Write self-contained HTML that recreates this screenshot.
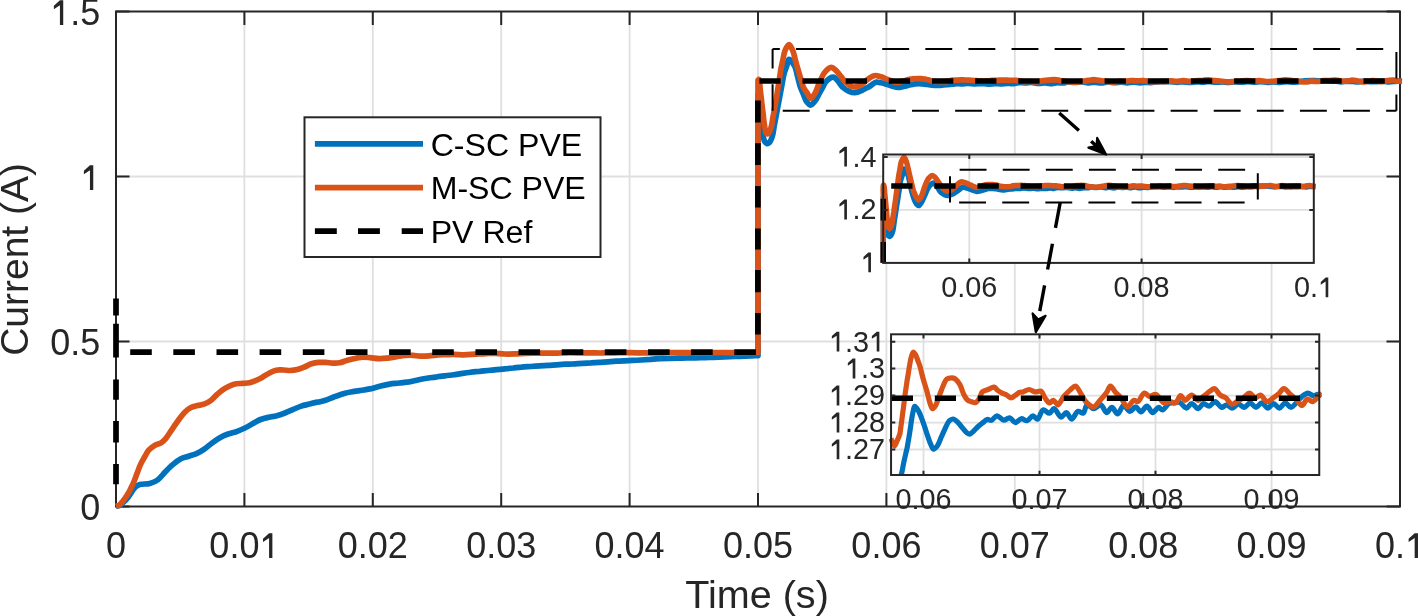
<!DOCTYPE html><html><head><meta charset="utf-8"><title>plot</title><style>html,body{margin:0;padding:0;background:#fff;overflow:hidden}svg{display:block;will-change:transform}</style></head><body>
<svg width="1418" height="616" viewBox="0 0 1418 616" font-family="'Liberation Sans', sans-serif">
<defs>
<clipPath id="cm"><rect x="112.5" y="8.0" width="1291" height="502.0"/></clipPath>
<clipPath id="c1"><rect x="880.2" y="151.5" width="436.7" height="113.7"/></clipPath>
<clipPath id="c2"><rect x="888.6" y="331.3" width="433.8" height="145.6"/></clipPath>
</defs>
<rect width="1418" height="616" fill="#fff"/>
<path d="M244.4 11.5V506.5M372.8 11.5V506.5M501.2 11.5V506.5M629.6 11.5V506.5M758.0 11.5V506.5M886.4 11.5V506.5M1014.8 11.5V506.5M1143.2 11.5V506.5M1271.6 11.5V506.5M116.0 341.5H1400.0M116.0 176.5H1400.0" stroke="#dfdfdf" stroke-width="1.8" fill="none"/>
<path d="M116.0 506.5V493.0M116.0 11.5V25.0M244.4 506.5V493.0M244.4 11.5V25.0M372.8 506.5V493.0M372.8 11.5V25.0M501.2 506.5V493.0M501.2 11.5V25.0M629.6 506.5V493.0M629.6 11.5V25.0M758.0 506.5V493.0M758.0 11.5V25.0M886.4 506.5V493.0M886.4 11.5V25.0M1014.8 506.5V493.0M1014.8 11.5V25.0M1143.2 506.5V493.0M1143.2 11.5V25.0M1271.6 506.5V493.0M1271.6 11.5V25.0M1400.0 506.5V493.0M1400.0 11.5V25.0M116.0 506.5H129.5M1400.0 506.5H1386.5M116.0 341.5H129.5M1400.0 341.5H1386.5M116.0 176.5H129.5M1400.0 176.5H1386.5M116.0 11.5H129.5M1400.0 11.5H1386.5" stroke="#262626" stroke-width="2" fill="none"/>
<rect x="116" y="11.5" width="1284" height="495.0" fill="none" stroke="#262626" stroke-width="2"/>
<g clip-path="url(#cm)" fill="none" stroke-linejoin="round" stroke-width="5.7">
<path d="M116.0 506.3C117.0 506.1 118.0 506.0 119.0 505.6C120.0 505.1 121.0 504.4 122.0 503.6C123.0 502.8 124.0 501.8 125.0 500.8C126.0 499.7 127.0 498.6 128.0 497.4C129.0 496.1 130.0 494.4 131.0 493.0C131.9 491.7 132.6 490.4 133.5 489.3C134.3 488.2 135.0 487.2 136.0 486.4C136.9 485.7 138.0 485.2 139.0 484.8C140.0 484.5 140.8 484.4 142.0 484.2C144.0 483.9 147.3 484.1 149.8 483.4C152.5 482.7 155.2 481.7 157.6 480.0C160.4 478.0 162.8 474.4 165.4 471.8C167.9 469.2 170.4 466.6 173.1 464.4C175.6 462.3 178.2 460.2 180.9 458.8C183.4 457.5 186.1 457.1 188.7 456.2C191.3 455.3 194.0 454.7 196.5 453.6C199.2 452.4 201.8 450.8 204.3 449.1C207.0 447.3 209.5 444.9 212.1 443.0C214.7 441.1 217.2 439.3 219.9 437.8C222.5 436.3 225.3 435.0 228.1 434.0C230.8 433.0 233.5 432.6 236.2 431.7C239.0 430.7 241.7 429.6 244.4 428.3C247.1 427.0 249.8 425.3 252.5 423.8C255.2 422.3 257.8 420.6 260.6 419.5C263.2 418.5 266.0 417.9 268.7 417.3C271.4 416.7 274.1 416.4 276.8 415.7C279.5 415.0 282.2 414.0 284.9 413.0C287.6 411.9 290.4 410.6 293.1 409.4C295.8 408.3 298.5 407.0 301.2 406.1C303.9 405.2 306.8 404.7 309.3 404.1C311.4 403.6 313.2 403.0 315.0 402.6C316.7 402.2 318.4 402.2 320.0 401.8C321.6 401.5 322.9 401.1 324.7 400.5C327.4 399.6 331.2 397.9 334.5 396.7C337.7 395.5 340.9 394.3 344.2 393.4C347.4 392.5 350.7 392.0 354.0 391.4C357.2 390.8 360.8 390.5 363.7 390.0C366.0 389.6 367.7 389.4 370.0 388.9C372.9 388.3 376.5 387.1 379.7 386.3C383.0 385.5 386.2 384.7 389.5 384.1C392.7 383.6 396.0 383.4 399.2 383.0C402.5 382.6 405.8 382.4 409.0 381.9C412.3 381.3 415.3 380.4 418.7 379.7C422.3 379.0 426.7 378.3 430.0 377.8C432.6 377.4 434.6 377.1 437.0 376.8C439.7 376.4 442.7 376.1 445.5 375.8C448.3 375.4 451.2 375.1 454.0 374.7C456.8 374.3 459.7 373.9 462.5 373.4C465.3 373.0 468.2 372.6 471.0 372.2C473.8 371.9 476.7 371.6 479.5 371.4C482.3 371.1 485.2 370.8 488.0 370.5C490.8 370.2 493.7 369.9 496.5 369.6C499.3 369.4 502.2 369.1 505.0 368.8C507.8 368.5 510.5 368.2 513.2 368.0C516.0 367.7 518.7 367.3 521.5 367.1C524.5 366.8 527.7 366.7 530.8 366.5C533.8 366.3 537.0 366.1 540.0 365.9C542.9 365.7 545.6 365.5 548.3 365.3C551.1 365.1 553.9 365.0 556.7 364.8C559.4 364.6 562.2 364.4 565.0 364.2C567.9 364.0 570.8 363.9 573.7 363.8C576.6 363.6 579.4 363.5 582.3 363.3C585.2 363.2 588.1 363.1 591.0 362.9C593.8 362.7 596.6 362.5 599.3 362.3C602.1 362.1 604.9 362.0 607.7 361.8C610.4 361.6 613.2 361.4 616.0 361.2C618.8 361.0 621.6 360.9 624.3 360.8C627.1 360.7 629.9 360.5 632.7 360.4C635.4 360.3 638.1 360.2 641.0 360.0C644.1 359.8 647.3 359.6 650.5 359.4C653.7 359.1 656.9 358.8 660.0 358.7C663.0 358.6 666.0 358.5 669.0 358.5C672.0 358.4 675.0 358.3 678.0 358.2C681.0 358.2 684.0 358.1 687.0 358.0C690.0 357.9 693.0 357.9 696.0 357.8C699.0 357.7 702.0 357.7 705.0 357.6C708.0 357.5 710.9 357.5 714.0 357.4C717.4 357.3 721.0 357.1 724.5 356.9C728.0 356.8 731.5 356.6 735.0 356.5C738.5 356.4 742.0 356.2 745.5 356.1C749.0 356.0 753.9 355.8 756.0 355.7C756.9 355.7 757.3 355.6 758.0 355.6C758.0 351.7 758.0 347.7 758.0 343.8C758.0 339.8 758.0 335.9 758.0 331.9C758.0 328.0 758.0 324.0 758.0 320.1C758.0 316.1 758.0 312.2 758.0 308.2C758.0 304.3 758.0 300.3 758.0 296.4C758.0 292.4 758.0 288.5 758.0 284.5C758.0 280.6 758.0 276.6 758.0 272.7C758.0 268.7 758.0 264.8 758.0 260.8C758.0 256.9 758.0 252.9 758.0 249.0C758.0 245.0 758.0 241.1 758.0 237.1C758.0 233.2 758.0 229.2 758.0 225.3C758.0 221.4 758.0 217.4 758.0 213.5C758.0 209.5 758.0 205.6 758.0 201.6C758.0 197.7 758.0 193.7 758.0 189.8C758.0 185.8 758.0 181.9 758.0 177.9C758.0 174.0 758.0 170.0 758.0 166.1C758.0 162.1 758.0 158.2 758.0 154.2C758.0 150.3 758.0 146.3 758.0 142.4C758.0 138.4 758.0 134.5 758.0 130.5C758.0 126.6 758.0 122.6 758.0 118.7C758.0 114.7 758.0 110.8 758.0 106.8C758.0 102.9 758.0 98.9 758.0 95.0C758.3 98.5 758.6 102.0 758.9 105.5C759.2 109.0 759.4 112.6 759.7 116.1C760.0 119.6 760.0 123.4 760.6 126.6C761.1 129.3 761.9 131.4 762.5 133.8C763.2 136.2 763.5 139.3 764.5 141.0C765.2 142.2 766.1 143.4 767.0 143.6C767.7 143.7 768.6 143.3 769.3 142.6C770.5 141.5 771.5 138.8 772.3 136.4C773.3 133.4 773.6 129.5 774.2 126.0C774.9 122.5 775.5 119.1 776.2 115.6C776.8 112.1 777.5 108.7 778.1 105.2C778.8 101.7 779.4 98.3 780.1 94.8C780.7 91.3 781.4 87.9 782.0 84.4C782.7 80.9 783.2 77.1 784.0 74.0C784.7 71.3 785.7 69.1 786.5 66.7C787.4 64.3 787.8 59.6 789.1 59.4C790.5 59.2 793.3 63.5 794.7 66.2C796.3 69.2 796.7 73.3 797.7 76.9C798.6 80.5 799.5 84.5 800.6 87.6C801.5 90.2 802.5 92.2 803.5 94.5C804.5 96.7 805.1 99.5 806.4 101.3C807.6 102.9 809.3 105.1 810.7 105.1C812.1 105.1 813.7 102.7 815.0 101.0C816.7 98.9 818.1 95.4 819.5 93.0C820.7 90.9 821.7 89.2 822.8 87.3C823.8 85.3 824.4 83.1 826.0 81.5C827.8 79.7 831.0 77.0 833.1 77.1C834.9 77.2 836.5 79.4 838.0 81.0C839.7 82.8 840.9 85.6 842.8 87.3C844.6 89.0 846.9 90.4 849.0 91.3C850.9 92.1 852.9 92.8 855.0 92.7C857.3 92.6 860.4 91.1 862.3 90.3C863.5 89.7 864.1 89.2 865.1 88.7C866.2 88.1 867.5 87.7 868.5 87.1C869.4 86.6 870.1 86.0 870.9 85.5C871.6 85.0 872.3 84.4 873.0 83.9C873.6 83.5 874.2 83.1 874.8 82.8C875.4 82.5 875.9 82.2 876.5 82.1C877.2 82.0 877.9 82.2 878.7 82.3C879.5 82.4 880.3 82.6 881.3 82.8C882.6 83.1 884.2 83.5 885.6 84.0C887.1 84.4 888.5 84.9 889.9 85.4C891.4 85.9 892.9 86.4 894.3 86.7C895.4 87.0 896.3 87.3 897.5 87.4C898.8 87.4 900.4 87.2 901.8 86.9C903.2 86.7 904.7 86.2 906.1 85.9C907.5 85.5 909.0 85.1 910.4 84.8C911.9 84.5 913.3 84.1 914.7 83.9C916.2 83.7 917.5 83.7 919.1 83.7C920.8 83.7 922.7 83.9 924.5 84.1C926.3 84.3 928.2 84.6 929.9 84.8C931.4 85.0 932.9 85.2 934.2 85.3C935.4 85.4 936.3 85.5 937.4 85.5C938.8 85.5 940.2 85.3 941.7 85.2C943.5 85.0 945.4 84.7 947.2 84.6C948.9 84.4 950.8 84.2 952.5 84.1C954.0 84.0 955.3 83.8 956.8 83.7C958.4 83.7 960.0 83.9 961.7 83.8C963.6 83.8 965.5 83.3 967.6 83.3C970.0 83.2 972.8 83.8 975.2 83.8C977.4 83.8 979.5 83.5 981.7 83.5C983.9 83.6 986.0 84.1 988.1 84.1C990.3 84.1 992.5 83.7 994.7 83.6C996.8 83.6 998.9 83.9 1001.1 83.9C1003.2 83.8 1005.6 83.3 1007.6 83.3C1009.4 83.3 1010.8 83.8 1012.6 83.7C1014.5 83.6 1016.6 82.7 1018.7 82.6C1021.0 82.4 1023.7 83.0 1025.9 83.0C1027.7 82.9 1029.0 82.4 1030.8 82.4C1033.2 82.4 1036.4 83.4 1038.8 83.4C1040.9 83.5 1042.7 82.8 1044.6 82.9C1046.5 82.9 1048.3 83.7 1050.3 83.7C1052.6 83.7 1055.3 82.8 1057.5 82.7C1059.5 82.6 1061.4 83.1 1063.2 83.0C1064.7 82.8 1065.9 82.1 1067.5 81.9C1069.6 81.8 1072.2 82.4 1074.7 82.4C1077.3 82.4 1080.1 81.8 1082.7 81.9C1084.9 82.0 1087.0 82.8 1089.1 82.9C1091.0 82.9 1092.9 82.2 1094.8 82.2C1096.9 82.3 1099.2 83.1 1101.4 83.0C1103.5 83.0 1105.6 82.1 1107.8 82.0C1110.1 81.9 1112.6 82.7 1115.0 82.7C1117.2 82.7 1119.3 82.1 1121.4 82.2C1123.4 82.2 1125.2 82.8 1127.2 82.8C1129.3 82.8 1131.5 82.1 1133.7 82.1C1135.8 82.1 1137.9 82.9 1140.1 82.9C1142.3 82.9 1144.7 82.3 1146.6 82.2C1148.2 82.2 1149.3 82.6 1150.9 82.6C1153.0 82.5 1155.9 81.9 1158.1 81.8C1160.2 81.6 1162.0 81.7 1163.9 81.7C1165.8 81.7 1167.6 81.5 1169.7 81.6C1172.1 81.7 1175.1 82.3 1177.5 82.3C1179.6 82.3 1181.2 81.8 1183.3 81.8C1185.5 81.8 1188.2 82.4 1190.5 82.4C1192.5 82.4 1194.2 81.8 1196.2 81.8C1198.3 81.7 1200.5 82.1 1202.6 82.1C1204.8 82.0 1206.9 81.5 1209.2 81.5C1211.5 81.6 1214.1 82.2 1216.4 82.2C1218.4 82.3 1220.2 81.9 1222.1 81.9C1224.0 81.9 1225.8 82.3 1227.8 82.3C1230.0 82.3 1232.6 81.9 1235.0 81.9C1237.2 81.8 1239.3 82.3 1241.5 82.2C1243.6 82.2 1245.8 81.7 1247.9 81.7C1250.1 81.7 1252.3 82.2 1254.4 82.2C1256.6 82.2 1258.7 81.7 1260.9 81.7C1263.0 81.7 1265.2 82.3 1267.4 82.3C1269.5 82.3 1271.7 81.8 1273.8 81.8C1276.0 81.8 1278.2 82.3 1280.3 82.3C1282.5 82.3 1284.6 81.7 1286.8 81.7C1288.9 81.7 1291.2 82.3 1293.2 82.2C1295.0 82.2 1296.4 82.0 1298.3 81.8C1300.5 81.5 1303.1 81.1 1305.5 80.9C1307.7 80.7 1309.8 80.5 1311.9 80.5C1313.9 80.5 1315.8 80.8 1317.6 80.8C1319.4 80.8 1320.9 80.7 1322.7 80.7C1324.9 80.6 1327.5 80.8 1329.7 80.8C1331.7 80.9 1333.6 81.0 1335.5 81.2C1337.4 81.3 1339.3 81.8 1341.3 81.9C1343.2 81.9 1345.1 81.3 1347.0 81.2C1349.0 81.2 1350.9 81.3 1352.8 81.4C1354.8 81.5 1356.7 81.9 1358.6 81.8C1360.5 81.8 1362.5 81.1 1364.4 81.1C1366.3 81.1 1368.2 81.5 1370.2 81.6C1372.1 81.7 1374.0 81.7 1375.9 81.6C1377.9 81.5 1379.8 81.1 1381.7 81.1C1383.6 81.1 1385.6 81.7 1387.5 81.8C1389.4 81.8 1391.3 81.5 1393.3 81.4C1395.2 81.3 1397.4 81.1 1399.0 81.2C1400.2 81.3 1401.0 81.4 1402.0 81.5" stroke="#0072BD" stroke-linecap="butt"/>
<path d="M116.0 506.3C116.8 506.0 117.7 505.9 118.5 505.5C119.4 505.0 120.2 504.3 121.0 503.5C121.8 502.7 122.4 501.7 123.2 500.7C124.1 499.5 125.1 498.2 126.0 496.8C127.0 495.3 128.2 493.6 129.1 491.9C130.1 490.2 130.9 488.3 131.7 486.5C132.6 484.7 133.4 483.0 134.2 481.0C135.1 478.7 136.1 475.9 137.0 473.5C137.9 471.2 138.6 468.9 139.5 466.8C140.3 464.9 141.1 463.3 142.0 461.5C143.0 459.6 144.2 457.8 145.2 455.9C146.3 454.1 147.0 452.1 148.5 450.4C150.2 448.5 152.7 446.5 155.0 445.2C157.1 444.0 159.7 443.8 161.5 442.6C163.1 441.6 164.1 440.4 165.5 438.8C167.4 436.6 169.5 433.1 171.5 430.2C173.6 427.1 175.8 423.8 178.0 420.8C180.1 417.9 182.2 414.7 184.5 412.4C186.5 410.4 188.7 408.7 191.0 407.5C193.1 406.4 195.3 406.1 197.5 405.5C199.7 405.0 201.9 405.0 204.0 404.2C206.2 403.4 208.4 402.2 210.5 400.7C212.8 399.0 214.8 396.4 217.0 394.5C219.1 392.6 221.2 390.8 223.4 389.3C225.5 387.9 227.7 386.7 229.9 385.8C232.0 384.9 234.2 384.2 236.4 383.8C238.5 383.4 240.7 383.6 242.9 383.4C245.1 383.2 247.3 383.3 249.4 382.8C251.4 382.4 253.0 381.6 255.0 380.8C257.2 379.9 259.8 378.7 262.1 377.4C264.5 376.1 266.7 374.4 269.1 373.2C271.4 372.0 273.8 370.7 276.2 370.2C278.5 369.7 280.9 370.0 283.2 370.0C285.6 370.0 287.9 370.6 290.3 370.5C292.6 370.4 295.0 370.1 297.3 369.5C299.7 368.9 302.1 367.9 304.4 367.0C306.8 366.0 309.0 364.6 311.4 363.8C313.7 363.1 316.1 362.6 318.5 362.4C320.8 362.2 323.2 362.3 325.5 362.4C327.9 362.5 330.2 363.0 332.6 363.1C334.9 363.2 337.3 363.2 339.6 362.8C342.0 362.4 344.2 361.2 346.7 360.5C349.3 359.7 352.5 359.0 355.0 358.4C357.1 357.9 358.6 357.5 360.7 357.3C363.4 357.1 366.8 357.4 369.8 357.6C372.8 357.8 376.0 358.5 378.9 358.6C381.6 358.7 384.1 358.5 386.8 358.2C389.7 357.9 392.9 357.3 395.9 356.8C398.9 356.4 402.1 355.7 405.0 355.5C407.7 355.3 410.4 355.2 413.0 355.3C415.4 355.4 417.5 356.0 420.0 356.1C422.8 356.2 425.9 356.1 428.9 355.9C431.9 355.7 435.2 355.2 438.0 355.0C440.5 354.8 442.5 354.8 445.0 354.7C447.8 354.6 450.9 354.4 454.0 354.4C457.2 354.4 460.6 354.8 464.0 354.8C467.6 354.8 471.3 354.4 475.0 354.2C478.7 354.0 482.5 353.7 486.0 353.6C489.1 353.5 491.9 353.3 495.0 353.4C498.2 353.5 501.7 353.9 505.0 354.0C508.3 354.1 511.7 354.0 515.0 353.9C518.3 353.8 521.9 353.4 525.0 353.3C527.7 353.2 530.0 353.2 532.5 353.2C535.0 353.2 537.5 353.1 540.0 353.1C542.5 353.1 545.0 353.1 547.5 353.1C550.0 353.2 552.5 353.2 555.0 353.2C557.5 353.2 560.0 353.0 562.5 352.9C565.0 352.9 567.5 352.7 570.0 352.7C572.5 352.7 575.0 352.7 577.5 352.8C580.0 352.8 582.5 352.8 585.0 352.8C587.5 352.8 590.0 352.9 592.5 352.9C595.0 352.9 597.5 353.0 600.0 353.0C602.5 353.0 605.0 352.9 607.5 352.9C610.0 352.9 612.5 352.8 615.0 352.8C617.5 352.8 620.0 352.7 622.5 352.7C625.0 352.7 627.5 352.6 630.0 352.6C632.5 352.6 635.0 352.7 637.5 352.8C640.0 352.8 642.5 352.9 645.0 352.9C647.5 352.9 650.0 352.9 652.5 352.9C655.0 352.8 657.5 352.8 660.0 352.8C662.5 352.8 665.0 352.7 667.5 352.6C670.0 352.6 672.5 352.5 675.0 352.5C677.5 352.5 680.0 352.6 682.5 352.6C685.0 352.6 687.5 352.7 690.0 352.7C692.5 352.7 695.0 352.7 697.5 352.8C700.0 352.8 702.5 352.8 705.0 352.8C707.5 352.8 710.0 352.7 712.5 352.6C715.0 352.6 717.5 352.5 720.0 352.5C722.5 352.5 725.0 352.5 727.5 352.6C730.0 352.6 732.5 352.6 735.0 352.6C737.5 352.6 740.0 352.6 742.5 352.6C745.0 352.5 747.5 352.5 750.0 352.5C752.6 352.5 755.3 352.5 758.0 352.5C758.0 348.6 758.0 344.6 758.0 340.7C758.0 336.7 758.0 332.8 758.0 328.8C758.0 324.9 758.0 320.9 758.0 317.0C758.0 313.0 758.0 309.1 758.0 305.1C758.0 301.2 758.0 297.2 758.0 293.3C758.0 289.3 758.0 285.4 758.0 281.4C758.0 277.5 758.0 273.5 758.0 269.6C758.0 265.6 758.0 261.7 758.0 257.7C758.0 253.8 758.0 249.8 758.0 245.9C758.0 241.9 758.0 238.0 758.0 234.0C758.0 230.1 758.0 226.1 758.0 222.2C758.0 218.2 758.0 214.3 758.0 210.3C758.0 206.4 758.0 202.4 758.0 198.5C758.0 194.5 758.0 190.6 758.0 186.6C758.0 182.7 758.0 178.7 758.0 174.8C758.0 170.8 758.0 166.9 758.0 162.9C758.0 159.0 758.0 155.0 758.0 151.1C758.0 147.1 758.0 143.2 758.0 139.2C758.0 135.3 758.0 131.3 758.0 127.4C758.0 123.4 758.0 119.5 758.0 115.5C758.0 111.6 758.0 107.6 758.0 103.7C758.0 99.7 758.0 95.8 758.0 91.8C758.0 87.9 758.0 83.9 758.0 80.0C758.3 79.8 758.7 79.3 759.0 79.5C759.8 80.0 759.8 86.1 760.2 89.4C760.6 92.7 761.0 96.2 761.4 99.3C761.7 102.1 762.0 104.7 762.3 107.4C762.6 110.1 763.0 112.7 763.3 115.4C763.6 118.1 763.7 120.7 764.2 123.5C764.8 126.7 765.3 132.8 766.6 133.6C767.2 134.0 768.0 133.7 768.6 133.2C769.7 132.3 770.6 129.0 771.3 126.6C772.1 123.8 772.4 120.5 772.9 117.5C773.5 114.5 774.0 111.4 774.6 108.4C775.1 105.4 775.7 102.4 776.2 99.3C776.8 96.0 777.3 92.4 777.8 88.9C778.4 85.4 778.9 82.0 779.5 78.5C780.0 75.0 780.5 71.4 781.1 68.1C781.7 65.0 782.4 62.3 783.0 59.4C783.7 56.4 783.9 53.1 785.0 50.6C786.0 48.3 787.8 44.7 789.1 44.7C790.4 44.7 791.8 48.4 792.8 50.6C793.9 53.2 794.4 56.4 795.2 59.4C796.0 62.3 796.7 65.1 797.6 68.1C798.5 71.3 799.6 74.6 800.5 77.9C801.5 81.1 802.2 84.9 803.5 87.6C804.5 89.7 805.9 91.2 807.1 93.0C808.3 94.7 809.4 98.2 810.7 98.3C812.1 98.4 813.9 95.2 815.2 93.0C816.9 90.2 817.9 85.8 819.5 82.3C821.1 78.8 822.8 74.6 825.0 72.0C826.8 69.9 829.2 67.5 831.2 67.4C832.9 67.3 834.5 69.2 836.0 70.5C837.8 72.1 839.2 74.4 840.9 76.4C842.6 78.4 844.3 80.9 846.0 82.5C847.3 83.8 849.4 85.0 850.0 85.6C850.2 85.8 850.2 85.9 850.4 86.0C851.0 86.4 852.9 86.9 854.1 87.0C855.1 87.0 856.1 86.6 857.1 86.4C858.1 86.1 859.3 85.9 860.2 85.5C861.0 85.1 861.6 84.5 862.3 83.9C862.9 83.4 863.5 82.9 864.2 82.3C864.8 81.8 865.3 81.3 865.9 80.7C866.7 80.1 867.5 79.5 868.4 78.9C869.2 78.3 870.1 77.7 870.9 77.2C871.6 76.8 872.2 76.4 872.9 76.1C873.6 75.8 874.4 75.5 875.2 75.5C876.0 75.4 876.7 75.6 877.5 75.8C878.4 75.9 879.5 76.3 880.3 76.6C881.1 76.8 881.6 76.9 882.4 77.2C883.5 77.6 884.8 78.3 886.1 78.8C887.4 79.3 889.1 79.8 890.4 80.4C891.5 80.8 892.6 81.4 893.6 81.7C894.5 82.0 895.4 82.3 896.4 82.4C897.3 82.5 898.2 82.3 899.1 82.1C900.1 82.0 901.2 81.6 902.2 81.3C903.3 81.0 904.4 80.7 905.4 80.4C906.5 80.1 907.5 79.8 908.5 79.5C909.7 79.2 910.8 78.9 912.2 78.8C913.8 78.6 916.1 78.6 917.7 78.6C919.0 78.6 920.0 78.6 921.3 78.7C922.9 78.9 925.0 79.1 926.7 79.5C928.2 79.8 929.6 80.3 931.0 80.7C932.4 81.0 933.9 81.2 935.3 81.4C936.8 81.5 938.2 81.5 939.6 81.5C941.1 81.6 942.5 81.7 944.0 81.7C945.4 81.6 946.9 81.4 948.3 81.1C949.4 80.9 950.2 80.5 951.5 80.3C953.2 80.1 955.8 80.2 957.9 80.1C960.1 80.0 962.5 79.7 964.4 79.8C966.0 79.8 967.2 80.1 968.8 80.2C970.5 80.3 972.6 80.4 974.2 80.5C975.4 80.6 976.2 80.6 977.4 80.7C979.1 80.7 981.4 81.1 983.3 81.1C985.0 81.1 986.5 80.9 988.1 80.8C989.6 80.7 991.0 80.5 992.4 80.4C993.9 80.3 995.2 80.4 996.8 80.3C998.7 80.3 1001.1 80.1 1003.3 80.1C1005.5 80.1 1007.6 80.3 1009.8 80.3C1012.0 80.4 1014.5 80.1 1016.5 80.3C1018.1 80.4 1019.3 80.8 1020.8 81.1C1022.4 81.3 1024.2 81.7 1025.9 81.7C1027.4 81.7 1028.7 81.3 1030.2 81.4C1031.8 81.4 1033.4 82.0 1035.2 81.9C1037.2 81.9 1039.5 81.2 1041.7 80.9C1044.0 80.6 1046.6 80.3 1048.9 80.1C1050.9 79.9 1052.7 79.6 1054.6 79.6C1056.5 79.7 1058.4 80.2 1060.3 80.5C1062.2 80.8 1063.9 81.3 1066.0 81.5C1068.6 81.9 1071.9 82.2 1074.7 82.2C1077.2 82.1 1079.5 81.7 1081.9 81.4C1084.3 81.1 1087.0 80.8 1089.1 80.4C1090.7 80.2 1091.8 79.7 1093.4 79.6C1095.2 79.6 1097.2 80.2 1099.1 80.4C1101.1 80.7 1102.9 80.8 1104.9 81.1C1107.2 81.4 1109.7 82.1 1112.1 82.2C1114.5 82.2 1117.2 81.5 1119.3 81.4C1120.9 81.3 1122.0 81.6 1123.6 81.5C1125.7 81.4 1128.5 80.6 1130.8 80.5C1132.8 80.4 1134.5 80.9 1136.6 80.9C1138.8 80.9 1141.3 80.5 1143.8 80.7C1146.5 80.8 1149.6 81.6 1152.4 81.7C1154.9 81.8 1157.3 81.5 1159.6 81.5C1161.6 81.5 1163.4 81.8 1165.3 81.7C1167.2 81.6 1169.1 80.9 1171.0 80.8C1172.7 80.8 1174.2 81.4 1176.1 81.4C1178.3 81.4 1180.9 80.7 1183.3 80.7C1185.7 80.7 1188.2 81.4 1190.5 81.4C1192.5 81.4 1194.2 81.1 1196.2 80.9C1198.5 80.7 1201.2 80.4 1203.4 80.3C1205.2 80.1 1206.6 79.9 1208.4 79.9C1210.4 80.0 1212.8 80.6 1214.9 80.7C1216.9 80.9 1218.7 80.9 1220.7 81.1C1222.9 81.2 1225.5 81.8 1227.8 81.9C1229.8 81.9 1231.5 81.7 1233.5 81.5C1235.8 81.4 1238.4 81.2 1240.7 81.1C1242.9 80.9 1245.1 80.5 1247.2 80.5C1249.4 80.5 1251.6 81.0 1253.7 81.1C1255.6 81.1 1257.4 80.7 1259.4 80.7C1261.7 80.8 1264.2 81.5 1266.6 81.5C1269.0 81.6 1271.5 81.2 1273.8 81.1C1275.8 80.9 1277.7 80.8 1279.6 80.6C1281.5 80.4 1283.3 80.0 1285.3 79.9C1287.6 79.9 1290.1 80.4 1292.5 80.7C1294.9 80.9 1297.5 81.1 1299.7 81.4C1301.7 81.6 1303.6 82.0 1305.5 82.0C1307.4 82.0 1309.3 81.3 1311.2 81.2C1313.1 81.1 1315.1 81.6 1317.0 81.5C1318.9 81.5 1321.1 81.1 1322.7 81.0C1323.9 80.9 1324.6 80.7 1325.6 80.7C1326.9 80.6 1328.2 80.6 1329.7 80.5C1331.5 80.4 1333.6 80.0 1335.5 80.1C1337.4 80.2 1339.3 80.9 1341.3 81.1C1343.2 81.3 1345.1 81.2 1347.0 81.1C1349.0 80.9 1350.9 80.1 1352.8 80.2C1354.8 80.2 1356.7 80.8 1358.6 81.1C1360.5 81.4 1362.5 82.0 1364.4 81.9C1366.3 81.9 1368.2 81.0 1370.2 80.8C1372.1 80.6 1374.0 80.7 1375.9 80.8C1377.9 81.0 1379.8 81.7 1381.7 81.7C1383.6 81.6 1385.6 80.9 1387.5 80.6C1389.4 80.4 1391.4 79.9 1393.3 80.0C1395.2 80.1 1397.4 81.0 1399.0 81.2C1400.2 81.3 1401.0 81.2 1402.0 81.2" stroke="#D95319" stroke-linecap="butt"/>
<path d="M116 298.6V315.4M116 323.8V357.5M116 379.5V399.7M116 421.1V442.6M116 464.1V484.2M757.9 313.0V334.5M757.9 270.1V292.2M757.9 228.6V249.4M757.9 185.9V207.5M757.9 143.2V165.1M757.9 100.5V122.4M130.2 352.2H151.8M173.3 352.2H194.9M216.5 352.2H238.1M259.6 352.2H281.2M302.8 352.2H324.4M345.9 352.2H367.5M389.1 352.2H410.7M432.2 352.2H453.8M475.4 352.2H497.0M518.5 352.2H540.1M561.7 352.2H583.3M604.8 352.2H626.4M648.0 352.2H669.6M691.1 352.2H712.7M734.3 352.2H755.9M759.4 81H780.7M802.5 81H823.8M845.7 81H867.0M888.8 81H910.1M932.0 81H953.3M975.1 81H996.4M1018.3 81H1039.6M1061.4 81H1082.7M1104.6 81H1125.9M1147.8 81H1169.0M1190.9 81H1212.2M1234.1 81H1255.4M1277.2 81H1298.5M1320.4 81H1341.7M1363.5 81H1384.8" stroke="#000" stroke-width="5.7" stroke-linecap="butt"/>
</g>
<g fill="#262626" font-size="36">
<text x="105.99" y="557.90" font-size="36" fill="#262626">0</text>
<text x="209.37" y="557.90" font-size="36" fill="#262626">0.0 </text><path d="M550 1409L738 1409L738 0L550 0L550 1128L205 900L205 1095Z" fill="#262626" transform="translate(259.41 557.90) scale(0.017578 -0.017578)"/>
<text x="337.77" y="557.90" font-size="36" fill="#262626">0.02</text>
<text x="466.17" y="557.90" font-size="36" fill="#262626">0.03</text>
<text x="594.57" y="557.90" font-size="36" fill="#262626">0.04</text>
<text x="722.97" y="557.90" font-size="36" fill="#262626">0.05</text>
<text x="851.37" y="557.90" font-size="36" fill="#262626">0.06</text>
<text x="979.77" y="557.90" font-size="36" fill="#262626">0.07</text>
<text x="1108.17" y="557.90" font-size="36" fill="#262626">0.08</text>
<text x="1236.57" y="557.90" font-size="36" fill="#262626">0.09</text>
<text x="1374.98" y="557.90" font-size="36" fill="#262626">0. </text><path d="M550 1409L738 1409L738 0L550 0L550 1128L205 900L205 1095Z" fill="#262626" transform="translate(1405.00 557.90) scale(0.017578 -0.017578)"/>
<text x="80.28" y="520.00" font-size="36" fill="#262626">0</text>
<text x="50.26" y="355.00" font-size="36" fill="#262626">0.5</text>
<text x="80.28" y="190.00" font-size="36" fill="#262626"> </text><path d="M550 1409L738 1409L738 0L550 0L550 1128L205 900L205 1095Z" fill="#262626" transform="translate(80.28 190.00) scale(0.017578 -0.017578)"/>
<text x="50.26" y="25.00" font-size="36" fill="#262626"> .5</text><path d="M550 1409L738 1409L738 0L550 0L550 1128L205 900L205 1095Z" fill="#262626" transform="translate(50.26 25.00) scale(0.017578 -0.017578)"/>
</g>
<text x="757" y="608" font-size="39.6" fill="#262626" text-anchor="middle">Time (s)</text>
<text transform="translate(27.8 259.4) rotate(-90)" x="0" y="0" font-size="39" fill="#262626" text-anchor="middle">Current (A)</text>
<rect x="304.5" y="117.3" width="296" height="139.7" fill="#fff" stroke="#262626" stroke-width="2"/>
<path d="M314.9 143.9H423" stroke="#0072BD" stroke-width="5.7"/>
<path d="M314.9 187.6H423" stroke="#D95319" stroke-width="5.7"/>
<path d="M314.9 231.2H336.8M358 231.2H379.9M401.7 231.2H423" stroke="#000" stroke-width="5.7"/>
<g font-size="32.1" fill="#000">
<text x="430.7" y="155.6">C-SC PVE</text>
<text x="430.7" y="199.2">M-SC PVE</text>
<text x="430.7" y="242.8">PV Ref</text>
</g>
<rect x="883.2" y="154.5" width="430.6" height="108.4" fill="#fff"/>
<path d="M969.3 154.5V262.9M1141.6 154.5V262.9M883.2 157.0H1313.8M883.2 209.9H1313.8" stroke="#dfdfdf" stroke-width="1.8" fill="none"/>
<g clip-path="url(#c1)" fill="none" stroke-linejoin="round" stroke-width="5.5">
<path d="M883.2 262.9C883.2 259.2 883.2 255.6 883.2 252.0C883.2 248.3 883.2 244.7 883.2 241.1C883.2 237.4 883.2 233.8 883.2 230.2C883.2 226.5 883.2 222.9 883.2 219.3C883.2 215.6 883.2 212.0 883.2 208.4C883.2 204.7 883.2 201.1 883.2 197.5C883.4 200.3 883.6 203.1 883.8 205.9C884.0 208.7 884.2 211.5 884.4 214.4C884.6 217.2 884.5 219.8 884.9 222.8C885.5 226.4 886.5 232.1 887.6 234.3C888.1 235.4 888.6 236.3 889.2 236.4C889.7 236.5 890.3 236.1 890.8 235.6C891.6 234.7 892.3 232.6 892.8 230.7C893.5 228.3 893.7 225.1 894.1 222.3C894.5 219.5 895.0 216.8 895.4 214.0C895.8 211.2 896.2 208.4 896.7 205.7C897.1 202.9 897.6 200.1 898.0 197.3C898.4 194.5 898.9 191.8 899.3 189.0C899.8 186.2 900.1 183.2 900.6 180.6C901.1 178.5 901.8 176.7 902.4 174.8C902.9 172.8 903.2 169.1 904.1 168.9C905.0 168.8 906.9 172.3 907.8 174.4C908.9 176.8 909.1 180.1 909.8 183.0C910.5 185.8 910.9 188.5 911.8 191.5C912.8 195.0 914.2 200.1 915.7 202.5C916.6 204.0 917.6 205.6 918.6 205.6C919.5 205.6 920.6 203.6 921.4 202.3C922.6 200.6 923.4 198.2 924.5 195.9C925.8 193.1 927.0 188.9 928.8 186.7C930.2 185.0 932.2 183.0 933.6 183.1C934.8 183.2 935.8 185.0 936.9 186.3C938.0 187.7 938.8 189.9 940.1 191.3C941.3 192.6 942.8 193.8 944.2 194.5C945.5 195.2 946.9 195.7 948.3 195.6C949.8 195.5 951.9 194.3 953.2 193.7C954.0 193.3 954.4 192.8 955.1 192.4C955.8 192.0 956.6 191.6 957.3 191.1C957.9 190.7 958.4 190.3 958.9 189.9C959.4 189.4 959.9 189.0 960.4 188.6C960.8 188.3 961.1 187.9 961.5 187.7C961.9 187.5 962.3 187.2 962.7 187.2C963.2 187.1 963.6 187.2 964.1 187.3C964.7 187.4 965.3 187.5 965.9 187.7C966.8 187.9 967.9 188.3 968.8 188.6C969.8 189.0 970.7 189.4 971.7 189.8C972.7 190.1 973.7 190.6 974.6 190.8C975.4 191.1 976.0 191.3 976.8 191.4C977.7 191.4 978.7 191.2 979.7 191.0C980.6 190.8 981.6 190.4 982.6 190.2C983.5 189.9 984.5 189.6 985.5 189.3C986.4 189.0 987.4 188.7 988.4 188.6C989.3 188.4 990.2 188.4 991.2 188.4C992.4 188.4 993.7 188.6 994.9 188.7C996.1 188.9 997.4 189.1 998.5 189.3C999.5 189.5 1000.5 189.6 1001.4 189.7C1002.2 189.8 1002.8 189.9 1003.6 189.9C1004.5 189.9 1005.4 189.7 1006.5 189.6C1007.6 189.5 1008.9 189.3 1010.1 189.1C1011.3 189.0 1012.5 188.8 1013.7 188.7C1014.7 188.6 1015.6 188.5 1016.6 188.4C1017.6 188.4 1018.7 188.6 1019.8 188.5C1021.1 188.5 1022.4 188.1 1023.8 188.1C1025.4 188.1 1027.3 188.5 1028.9 188.5C1030.4 188.5 1031.8 188.2 1033.3 188.3C1034.7 188.3 1036.1 188.7 1037.6 188.7C1039.0 188.8 1040.5 188.4 1042.0 188.4C1043.4 188.3 1044.8 188.6 1046.3 188.6C1047.7 188.5 1049.3 188.1 1050.7 188.1C1051.8 188.1 1052.8 188.5 1054.0 188.4C1055.3 188.3 1056.7 187.6 1058.1 187.5C1059.6 187.4 1061.4 187.9 1062.9 187.8C1064.1 187.8 1065.0 187.4 1066.2 187.4C1067.8 187.4 1070.0 188.2 1071.6 188.2C1073.0 188.2 1074.2 187.7 1075.5 187.8C1076.7 187.8 1078.0 188.4 1079.3 188.4C1080.8 188.4 1082.6 187.7 1084.1 187.6C1085.5 187.6 1086.8 188.0 1087.9 187.8C1089.0 187.7 1089.7 187.1 1090.8 187.0C1092.2 186.9 1094.0 187.4 1095.7 187.4C1097.4 187.4 1099.3 186.9 1101.0 187.0C1102.5 187.1 1103.9 187.7 1105.3 187.8C1106.6 187.8 1107.8 187.2 1109.2 187.3C1110.6 187.3 1112.1 187.9 1113.6 187.9C1115.0 187.9 1116.4 187.1 1117.9 187.1C1119.4 187.0 1121.1 187.6 1122.7 187.6C1124.2 187.6 1125.6 187.2 1127.0 187.2C1128.3 187.2 1129.5 187.7 1130.9 187.7C1132.3 187.7 1133.8 187.1 1135.2 187.1C1136.7 187.1 1138.1 187.7 1139.5 187.8C1141.0 187.8 1142.6 187.3 1143.9 187.3C1145.0 187.2 1145.7 187.5 1146.8 187.5C1148.2 187.5 1150.1 187.0 1151.6 186.9C1153.0 186.8 1154.2 186.8 1155.5 186.8C1156.8 186.8 1158.0 186.7 1159.4 186.7C1161.0 186.8 1163.0 187.3 1164.6 187.3C1166.0 187.3 1167.1 186.9 1168.5 186.9C1170.0 186.9 1171.8 187.4 1173.3 187.4C1174.7 187.4 1175.9 186.9 1177.2 186.9C1178.6 186.8 1180.1 187.2 1181.5 187.1C1183.0 187.1 1184.4 186.7 1185.9 186.7C1187.4 186.7 1189.2 187.2 1190.7 187.3C1192.1 187.3 1193.3 187.0 1194.6 187.0C1195.8 187.0 1197.0 187.3 1198.4 187.3C1199.9 187.3 1201.6 186.9 1203.2 186.9C1204.7 186.9 1206.1 187.3 1207.6 187.3C1209.0 187.2 1210.4 186.8 1211.9 186.8C1213.3 186.8 1214.8 187.3 1216.2 187.3C1217.7 187.3 1219.1 186.8 1220.6 186.8C1222.0 186.8 1223.5 187.3 1224.9 187.3C1226.4 187.3 1227.8 186.9 1229.2 186.9C1230.7 186.9 1232.2 187.3 1233.6 187.3C1235.1 187.3 1236.5 186.8 1237.9 186.8C1239.4 186.8 1240.9 187.3 1242.2 187.3C1243.4 187.2 1244.4 187.0 1245.7 186.9C1247.1 186.7 1248.9 186.3 1250.5 186.2C1252.0 186.0 1253.4 185.9 1254.8 185.8C1256.1 185.8 1257.4 186.1 1258.7 186.1C1259.8 186.1 1260.8 186.0 1262.1 186.0C1263.5 186.0 1265.3 186.1 1266.7 186.1C1268.1 186.2 1269.3 186.3 1270.6 186.4C1271.9 186.5 1273.2 186.9 1274.5 186.9C1275.8 186.9 1277.1 186.5 1278.4 186.4C1279.7 186.4 1281.0 186.5 1282.3 186.6C1283.5 186.6 1284.8 186.9 1286.1 186.9C1287.4 186.9 1288.7 186.4 1290.0 186.3C1291.3 186.3 1292.6 186.7 1293.9 186.7C1295.2 186.8 1296.5 186.8 1297.8 186.8C1299.1 186.7 1300.3 186.3 1301.6 186.3C1302.9 186.3 1304.2 186.9 1305.5 186.9C1306.8 186.9 1308.1 186.6 1309.4 186.6C1310.7 186.5 1312.1 186.4 1313.3 186.4C1314.1 186.5 1314.8 186.6 1315.6 186.7" stroke="#0072BD" stroke-linecap="butt"/>
<path d="M883.2 262.9C883.2 259.2 883.2 255.5 883.2 251.8C883.2 248.1 883.2 244.4 883.2 240.7C883.2 237.1 883.2 233.4 883.2 229.7C883.2 226.0 883.2 222.3 883.2 218.6C883.2 214.9 883.2 211.3 883.2 207.6C883.2 203.9 883.2 200.2 883.2 196.5C883.2 192.8 882.5 186.6 883.2 185.5C883.4 185.1 883.7 185.0 883.9 185.1C884.5 185.4 884.4 190.3 884.7 193.0C884.9 195.6 885.2 198.1 885.5 200.9C885.8 204.0 886.1 207.4 886.4 210.6C886.7 213.9 886.9 217.2 887.4 220.3C887.8 223.2 888.0 227.8 889.0 228.4C889.4 228.7 889.9 228.5 890.3 228.1C891.1 227.4 891.6 224.9 892.1 222.8C892.8 219.8 893.2 215.5 893.8 211.9C894.3 208.2 894.9 204.3 895.4 200.9C895.8 198.0 896.1 195.4 896.5 192.6C896.9 189.8 897.2 187.0 897.6 184.3C898.0 181.5 898.3 178.6 898.7 175.9C899.1 173.5 899.6 171.2 900.0 168.9C900.4 166.6 900.6 163.9 901.3 161.9C902.0 160.1 903.2 157.1 904.1 157.2C904.9 157.2 905.9 160.1 906.5 161.9C907.3 164.0 907.6 166.6 908.2 168.9C908.7 171.2 909.2 173.5 909.8 175.9C910.4 178.5 911.1 181.1 911.7 183.7C912.4 186.3 912.7 188.9 913.7 191.5C914.9 194.4 917.1 200.0 918.6 200.1C919.6 200.2 920.7 197.6 921.6 195.9C922.7 193.6 923.4 190.1 924.5 187.3C925.6 184.5 926.6 181.1 928.1 179.0C929.3 177.4 931.0 175.4 932.3 175.4C933.4 175.3 934.5 176.8 935.5 177.8C936.7 179.1 937.7 181.0 938.8 182.6C939.9 184.2 941.1 186.1 942.2 187.5C943.1 188.5 944.5 189.5 944.9 189.9C945.1 190.1 945.0 190.2 945.2 190.3C945.6 190.6 946.9 191.0 947.7 191.0C948.4 191.1 949.0 190.7 949.7 190.6C950.4 190.4 951.1 190.2 951.7 189.9C952.3 189.5 952.7 189.0 953.2 188.6C953.6 188.2 954.0 187.7 954.4 187.3C954.8 186.9 955.2 186.5 955.6 186.0C956.1 185.6 956.7 185.0 957.2 184.6C957.8 184.1 958.4 183.6 958.9 183.2C959.4 182.9 959.8 182.5 960.3 182.3C960.8 182.1 961.3 181.9 961.8 181.8C962.4 181.8 962.9 181.9 963.4 182.1C964.0 182.2 964.7 182.5 965.3 182.7C965.8 182.9 966.1 183.0 966.7 183.2C967.4 183.5 968.3 184.1 969.1 184.5C970.0 184.9 971.1 185.3 972.0 185.7C972.8 186.1 973.5 186.5 974.2 186.8C974.8 187.1 975.4 187.3 976.0 187.4C976.6 187.4 977.2 187.3 977.9 187.2C978.6 187.0 979.3 186.8 980.0 186.5C980.7 186.3 981.4 186.0 982.1 185.7C982.8 185.5 983.5 185.3 984.2 185.1C985.0 184.8 985.7 184.6 986.6 184.5C987.7 184.3 989.3 184.4 990.4 184.4C991.2 184.4 991.9 184.4 992.7 184.4C993.8 184.6 995.2 184.7 996.4 185.0C997.4 185.3 998.3 185.7 999.3 186.0C1000.2 186.2 1001.2 186.4 1002.2 186.5C1003.1 186.7 1004.1 186.7 1005.1 186.7C1006.0 186.7 1007.0 186.8 1008.0 186.8C1008.9 186.7 1010.0 186.6 1010.9 186.4C1011.6 186.2 1012.2 185.9 1013.0 185.7C1014.2 185.5 1015.9 185.6 1017.3 185.5C1018.8 185.4 1020.4 185.2 1021.7 185.3C1022.8 185.3 1023.6 185.5 1024.6 185.6C1025.7 185.7 1027.2 185.8 1028.2 185.9C1029.0 185.9 1029.6 185.9 1030.4 186.0C1031.5 186.0 1033.1 186.3 1034.3 186.3C1035.5 186.3 1036.5 186.2 1037.6 186.1C1038.6 186.0 1039.5 185.8 1040.5 185.8C1041.4 185.7 1042.3 185.8 1043.4 185.7C1044.7 185.7 1046.3 185.5 1047.8 185.5C1049.2 185.5 1050.7 185.7 1052.1 185.7C1053.6 185.8 1055.3 185.5 1056.6 185.7C1057.7 185.8 1058.5 186.1 1059.5 186.3C1060.6 186.5 1061.8 186.8 1062.9 186.8C1063.9 186.8 1064.8 186.5 1065.8 186.6C1066.9 186.6 1068.0 187.0 1069.1 187.0C1070.5 187.0 1072.0 186.4 1073.5 186.2C1075.1 185.9 1076.8 185.7 1078.4 185.5C1079.7 185.4 1080.9 185.1 1082.2 185.2C1083.5 185.2 1084.7 185.6 1086.0 185.8C1087.3 186.1 1088.4 186.5 1089.9 186.7C1091.6 186.9 1093.8 187.2 1095.7 187.2C1097.3 187.2 1098.9 186.8 1100.5 186.6C1102.1 186.3 1103.9 186.1 1105.3 185.8C1106.4 185.6 1107.2 185.2 1108.2 185.2C1109.4 185.1 1110.8 185.6 1112.1 185.8C1113.4 186.0 1114.6 186.1 1115.9 186.3C1117.4 186.5 1119.1 187.2 1120.8 187.2C1122.4 187.2 1124.2 186.6 1125.6 186.6C1126.7 186.5 1127.4 186.8 1128.5 186.7C1129.9 186.6 1131.8 185.9 1133.3 185.8C1134.7 185.8 1135.8 186.1 1137.2 186.2C1138.7 186.2 1140.3 185.9 1142.0 186.0C1143.8 186.1 1145.9 186.7 1147.8 186.8C1149.5 186.9 1151.1 186.7 1152.6 186.7C1154.0 186.7 1155.2 186.9 1156.5 186.8C1157.7 186.7 1159.0 186.1 1160.3 186.1C1161.4 186.1 1162.4 186.5 1163.7 186.6C1165.1 186.6 1166.9 186.0 1168.5 186.0C1170.1 186.0 1171.8 186.6 1173.3 186.6C1174.7 186.6 1175.8 186.3 1177.2 186.2C1178.7 186.0 1180.6 185.8 1182.0 185.7C1183.2 185.6 1184.2 185.4 1185.4 185.4C1186.7 185.5 1188.3 185.9 1189.7 186.0C1191.1 186.2 1192.2 186.2 1193.6 186.3C1195.1 186.5 1196.8 186.9 1198.4 186.9C1199.7 187.0 1200.9 186.8 1202.2 186.7C1203.7 186.6 1205.5 186.4 1207.0 186.3C1208.5 186.2 1210.0 185.8 1211.4 185.8C1212.9 185.9 1214.3 186.3 1215.7 186.3C1217.1 186.3 1218.2 186.0 1219.6 186.0C1221.1 186.1 1222.8 186.6 1224.4 186.7C1226.0 186.7 1227.7 186.4 1229.2 186.3C1230.6 186.2 1231.8 186.1 1233.1 185.9C1234.4 185.8 1235.6 185.4 1237.0 185.4C1238.5 185.4 1240.2 185.8 1241.8 186.0C1243.4 186.2 1245.1 186.4 1246.6 186.6C1248.0 186.7 1249.2 187.1 1250.5 187.1C1251.8 187.0 1253.1 186.5 1254.3 186.4C1255.6 186.4 1256.9 186.7 1258.2 186.7C1259.5 186.7 1261.0 186.4 1262.1 186.2C1262.8 186.1 1263.3 186.0 1264.0 186.0C1264.8 185.9 1265.8 185.9 1266.7 185.8C1267.9 185.8 1269.3 185.4 1270.6 185.5C1271.9 185.6 1273.2 186.2 1274.5 186.3C1275.8 186.5 1277.1 186.4 1278.4 186.3C1279.7 186.2 1281.0 185.6 1282.3 185.6C1283.5 185.6 1284.8 186.1 1286.1 186.4C1287.4 186.6 1288.7 187.0 1290.0 187.0C1291.3 186.9 1292.6 186.2 1293.9 186.1C1295.2 186.0 1296.5 186.0 1297.8 186.1C1299.1 186.2 1300.3 186.8 1301.6 186.8C1302.9 186.8 1304.2 186.2 1305.5 186.0C1306.8 185.7 1308.1 185.4 1309.4 185.4C1310.7 185.5 1312.1 186.3 1313.3 186.4C1314.1 186.5 1314.8 186.4 1315.6 186.4" stroke="#D95319" stroke-linecap="butt"/>
<path d="M883.2 198.8V220.5M883.2 242V262.85M848.1 186.1H869.4M891.2 186.1H912.5M934.4 186.1H955.6M977.5 186.1H998.8M1020.6 186.1H1042.0M1063.8 186.1H1085.1M1107.0 186.1H1128.2M1150.1 186.1H1171.4M1193.3 186.1H1214.6M1236.4 186.1H1257.7M1279.6 186.1H1300.9" stroke="#000" stroke-width="5.5"/>
</g>
<path d="M969.3 262.9V258.4M969.3 154.5V159.0M1141.6 262.9V258.4M1141.6 154.5V159.0M883.2 157.0H887.7M1313.8 157.0H1309.3M883.2 209.9H887.7M1313.8 209.9H1309.3" stroke="#262626" stroke-width="2" fill="none"/>
<rect x="883.2" y="154.5" width="430.6" height="108.4" fill="none" stroke="#262626" stroke-width="2"/>
<g fill="#262626" font-size="28.8">
<text x="941.27" y="297.30" font-size="28.8" fill="#262626">0.06</text>
<text x="1113.57" y="297.30" font-size="28.8" fill="#262626">0.08</text>
<text x="1293.88" y="297.30" font-size="28.8" fill="#262626">0. </text><path d="M550 1409L738 1409L738 0L550 0L550 1128L205 900L205 1095Z" fill="#262626" transform="translate(1317.90 297.30) scale(0.014063 -0.014063)"/>
<text x="836.56" y="166.50" font-size="28.8" fill="#262626"> .4</text><path d="M550 1409L738 1409L738 0L550 0L550 1128L205 900L205 1095Z" fill="#262626" transform="translate(836.56 166.50) scale(0.014063 -0.014063)"/>
<text x="836.56" y="219.40" font-size="28.8" fill="#262626"> .2</text><path d="M550 1409L738 1409L738 0L550 0L550 1128L205 900L205 1095Z" fill="#262626" transform="translate(836.56 219.40) scale(0.014063 -0.014063)"/>
<text x="860.58" y="272.30" font-size="28.8" fill="#262626"> </text><path d="M550 1409L738 1409L738 0L550 0L550 1128L205 900L205 1095Z" fill="#262626" transform="translate(860.58 272.30) scale(0.014063 -0.014063)"/>
</g>
<rect x="891.05" y="334.3" width="428.2" height="140.7" fill="#fff"/>
<path d="M923.5 334.3V475.0M1039.5 334.3V475.0M1155.5 334.3V475.0M1271.5 334.3V475.0M891.0 341.7H1319.3M891.0 368.6H1319.3M891.0 395.6H1319.3M891.0 422.6H1319.3M891.0 449.5H1319.3" stroke="#dfdfdf" stroke-width="1.8" fill="none"/>
<g clip-path="url(#c2)" fill="none" stroke-linejoin="round" stroke-width="5.2">
<path d="M901.0 475.0C901.3 474.3 901.5 473.9 901.7 473.0C902.1 471.5 902.6 468.7 903.0 466.5C903.4 464.3 903.8 462.2 904.3 460.0C904.8 457.8 905.3 455.7 905.8 453.5C906.3 451.3 906.9 449.2 907.3 447.0C907.7 444.8 908.0 442.7 908.4 440.5C908.8 438.3 909.2 436.2 909.5 434.0C909.8 431.8 910.1 429.7 910.5 427.5C910.8 425.3 911.0 423.3 911.4 421.0C911.8 418.2 912.4 414.6 913.0 412.0C913.5 409.9 913.8 406.8 914.6 406.5C915.1 406.3 915.9 407.3 916.5 408.0C917.3 408.9 918.1 410.1 918.9 411.7C920.2 414.1 921.8 418.6 922.8 421.4C923.6 423.6 924.1 425.3 924.8 427.2C925.4 429.2 925.9 430.9 926.7 433.1C927.8 436.2 929.3 441.0 930.6 443.9C931.6 446.0 932.3 449.0 933.5 449.2C934.6 449.4 936.2 447.4 937.4 445.8C939.0 443.7 940.0 439.9 941.3 437.0C942.6 434.1 943.9 431.1 945.2 428.3C946.5 425.7 947.5 422.6 949.1 421.0C950.3 419.9 951.7 418.9 953.0 419.0C954.6 419.1 956.4 421.0 957.9 422.4C959.6 424.0 961.2 426.5 962.8 428.3C964.2 429.9 965.4 431.7 966.7 432.7C967.7 433.4 968.6 434.2 969.6 434.1C970.8 434.0 972.2 432.3 973.5 431.2C975.1 429.8 976.7 427.8 978.4 426.3C980.0 424.9 981.7 423.6 983.2 422.4C984.6 421.3 985.7 419.8 987.1 419.5C988.5 419.2 990.0 420.7 991.5 420.3C993.3 419.8 994.9 415.9 996.9 415.8C999.0 415.7 1001.5 420.0 1003.7 420.2C1005.7 420.4 1007.7 417.5 1009.6 417.8C1011.6 418.1 1013.4 422.5 1015.4 422.6C1017.3 422.7 1019.3 419.0 1021.3 418.7C1023.2 418.5 1025.2 421.0 1027.1 420.7C1029.2 420.3 1031.2 415.8 1033.0 415.8C1034.6 415.8 1036.1 419.5 1037.5 419.2C1039.5 418.8 1040.7 410.7 1043.0 410.0C1044.9 409.4 1047.6 413.5 1049.5 413.2C1051.3 412.9 1052.4 408.6 1054.0 408.7C1056.2 408.8 1058.9 416.9 1061.2 417.1C1063.0 417.2 1064.7 412.4 1066.4 412.6C1068.2 412.8 1069.8 419.1 1071.6 419.1C1073.6 419.1 1075.8 411.9 1078.1 411.3C1079.8 410.9 1081.8 413.8 1083.2 413.2C1085.0 412.5 1085.2 405.4 1087.1 404.8C1088.8 404.3 1091.4 408.7 1093.6 408.7C1095.9 408.8 1098.7 404.3 1100.8 404.8C1103.1 405.3 1104.6 412.5 1106.6 412.6C1108.3 412.7 1110.0 407.4 1111.8 407.4C1113.7 407.4 1115.8 414.0 1117.7 413.9C1119.7 413.8 1121.4 405.8 1123.5 405.5C1125.5 405.3 1127.9 411.2 1130.0 411.3C1132.0 411.4 1134.0 406.7 1135.8 406.8C1137.6 406.9 1139.2 412.0 1141.0 412.0C1142.9 412.0 1145.0 406.0 1146.9 406.1C1148.9 406.2 1150.7 412.5 1152.7 412.6C1154.6 412.7 1156.8 407.5 1158.6 407.4C1160.0 407.3 1161.1 410.1 1162.5 410.0C1164.5 409.8 1166.8 404.6 1169.0 403.5C1170.7 402.7 1172.5 403.1 1174.2 402.9C1175.9 402.7 1177.6 401.7 1179.4 402.2C1181.7 402.9 1184.3 408.1 1186.5 408.1C1188.4 408.1 1189.8 403.5 1191.7 403.5C1193.7 403.4 1196.2 408.8 1198.2 408.7C1200.1 408.6 1201.5 403.9 1203.4 403.5C1205.2 403.2 1207.3 406.3 1209.2 406.1C1211.2 405.9 1213.1 401.5 1215.1 401.6C1217.2 401.7 1219.5 407.1 1221.6 407.4C1223.3 407.6 1225.1 404.7 1226.8 404.8C1228.5 404.9 1230.1 408.1 1231.9 408.1C1233.9 408.1 1236.3 404.2 1238.4 404.2C1240.4 404.2 1242.4 407.6 1244.3 407.4C1246.3 407.2 1248.2 402.9 1250.1 402.9C1252.1 402.9 1254.0 407.4 1256.0 407.4C1257.9 407.4 1259.9 402.8 1261.8 402.9C1263.8 403.0 1265.7 408.0 1267.7 408.1C1269.6 408.1 1271.6 403.5 1273.5 403.5C1275.5 403.5 1277.5 408.2 1279.4 408.1C1281.4 408.0 1283.2 403.0 1285.2 402.9C1287.1 402.8 1289.2 407.4 1291.0 407.4C1292.6 407.4 1294.0 405.1 1295.6 403.5C1297.6 401.5 1299.8 398.2 1302.1 396.4C1304.0 394.9 1306.0 393.2 1307.9 393.1C1309.7 393.1 1311.4 395.5 1313.1 395.7C1314.7 395.8 1316.3 394.4 1317.7 394.4C1319.0 394.4 1320.1 395.0 1321.3 395.3" stroke="#0072BD" stroke-linecap="butt"/>
<path d="M891.0 438.5C892.1 441.0 893.2 446.0 894.3 446.0C895.2 446.0 896.1 442.8 897.0 441.0C898.0 438.9 899.2 436.3 899.8 434.0C900.4 431.8 900.4 429.7 900.8 427.5C901.1 425.3 901.4 423.2 901.7 421.0C902.0 418.8 902.3 416.7 902.5 414.5C902.8 412.3 903.1 410.2 903.4 408.0C903.7 405.8 903.9 403.7 904.2 401.5C904.5 399.3 904.7 397.2 905.0 395.0C905.3 392.6 905.7 390.0 906.1 387.5C906.5 385.0 906.8 382.5 907.2 380.0C907.6 377.6 908.0 375.3 908.4 373.0C908.7 370.7 909.0 368.5 909.5 366.0C910.0 363.2 910.5 359.5 911.3 357.0C911.9 355.1 912.6 352.3 913.4 352.2C914.0 352.1 914.9 353.5 915.5 354.5C916.5 356.1 917.2 359.0 918.0 361.0C918.7 362.8 919.3 364.2 919.9 366.0C920.5 368.0 921.0 370.3 921.5 372.5C922.1 374.7 922.6 376.8 923.2 379.0C923.8 381.2 924.5 383.3 925.2 385.5C925.8 387.7 926.4 389.5 927.1 392.0C928.0 395.2 928.9 400.0 930.0 403.0C930.8 405.2 931.5 408.5 932.5 408.7C933.2 408.9 934.2 407.5 935.0 406.5C936.1 405.0 936.9 402.3 937.8 400.0C938.8 397.5 939.7 394.6 940.7 392.0C941.6 389.6 942.5 387.2 943.5 385.0C944.5 382.9 945.3 380.2 946.8 379.0C948.1 378.0 950.3 377.9 951.8 377.9C953.0 377.9 953.9 378.1 955.0 378.8C956.6 379.8 958.5 382.3 959.9 384.6C961.5 387.3 962.3 391.6 963.8 394.4C965.0 396.7 966.2 399.0 967.7 400.2C968.9 401.1 970.3 401.3 971.6 401.7C972.9 402.1 974.3 403.1 975.5 402.7C976.9 402.3 978.3 400.0 979.4 398.3C980.6 396.4 980.8 393.4 982.3 391.9C983.7 390.5 986.2 390.3 988.1 389.5C990.1 388.7 992.3 386.8 994.0 387.1C995.5 387.4 996.5 389.5 997.9 390.5C999.4 391.6 1001.3 392.7 1002.8 393.4C1003.9 393.9 1004.6 393.9 1005.7 394.4C1007.2 395.1 1009.3 397.8 1011.0 397.8C1012.5 397.8 1014.0 396.2 1015.4 395.3C1016.8 394.4 1017.9 393.0 1019.3 392.4C1020.5 391.9 1021.8 392.3 1023.2 391.9C1025.0 391.4 1027.1 389.5 1029.1 389.5C1031.1 389.5 1033.0 391.6 1035.0 391.9C1037.0 392.2 1039.4 390.4 1041.0 391.2C1042.8 392.1 1043.4 395.7 1044.9 397.7C1046.3 399.6 1047.9 402.7 1049.5 402.9C1050.8 403.1 1052.1 400.2 1053.4 400.3C1054.9 400.4 1056.4 404.9 1057.9 404.8C1059.8 404.6 1061.7 398.9 1063.8 396.4C1065.8 394.0 1068.2 391.7 1070.3 389.9C1072.1 388.4 1073.9 385.8 1075.5 386.0C1077.4 386.3 1078.9 390.6 1080.6 393.1C1082.4 395.8 1083.6 399.3 1085.8 401.6C1087.9 403.8 1091.2 407.0 1093.6 406.8C1096.0 406.6 1098.0 402.6 1100.1 400.3C1102.3 397.9 1104.8 395.1 1106.6 392.5C1108.2 390.3 1109.0 386.1 1110.5 386.0C1112.0 385.9 1113.9 390.5 1115.7 392.5C1117.4 394.4 1119.2 395.6 1120.9 397.7C1123.1 400.2 1125.1 406.6 1127.4 406.8C1129.5 407.0 1131.9 400.8 1133.9 400.3C1135.3 400.0 1136.5 402.0 1137.8 401.6C1139.9 400.9 1142.1 393.5 1144.3 393.1C1146.0 392.8 1147.6 396.1 1149.5 396.4C1151.5 396.7 1153.9 393.8 1156.0 394.4C1158.7 395.1 1161.1 402.0 1163.8 402.9C1165.9 403.6 1168.3 401.6 1170.3 401.6C1172.1 401.6 1173.9 403.5 1175.5 402.9C1177.5 402.2 1178.9 395.8 1180.6 395.7C1182.1 395.6 1183.5 400.2 1185.2 400.3C1187.1 400.4 1189.5 395.1 1191.7 395.1C1193.9 395.1 1196.1 400.3 1198.2 400.3C1200.0 400.3 1201.6 397.8 1203.4 396.4C1205.5 394.8 1207.9 392.6 1209.9 391.2C1211.5 390.1 1212.9 388.4 1214.4 388.6C1216.4 388.9 1218.2 393.5 1220.3 395.1C1222.0 396.4 1223.8 396.5 1225.5 397.7C1227.7 399.3 1229.7 403.8 1231.9 404.2C1233.6 404.5 1235.3 402.6 1237.1 401.6C1239.2 400.5 1241.5 399.1 1243.6 397.7C1245.7 396.3 1247.5 393.1 1249.5 393.1C1251.4 393.1 1253.4 397.5 1255.3 397.7C1257.0 397.9 1258.8 394.8 1260.5 395.1C1262.7 395.5 1264.7 401.3 1267.0 401.6C1269.1 401.9 1271.5 399.1 1273.5 397.7C1275.4 396.4 1277.0 395.3 1278.7 393.8C1280.5 392.2 1282.0 388.7 1283.9 388.6C1285.9 388.5 1288.2 392.5 1290.4 394.4C1292.6 396.4 1294.9 398.4 1296.9 400.3C1298.8 402.1 1300.4 405.6 1302.1 405.5C1303.9 405.4 1305.4 399.4 1307.3 399.0C1308.9 398.6 1310.8 401.8 1312.5 401.6C1314.3 401.4 1316.3 398.3 1317.7 397.0C1318.7 396.0 1319.6 394.9 1320.3 394.4C1320.7 394.2 1321.0 394.1 1321.3 394.0" stroke="#D95319" stroke-linecap="butt"/>
<path d="M891.8 398.3H913.0M934.8 398.3H956.0M977.8 398.3H999.0M1020.8 398.3H1042.0M1063.8 398.3H1085.0M1106.8 398.3H1128.0M1149.8 398.3H1171.0M1192.8 398.3H1214.0M1235.8 398.3H1257.0M1278.8 398.3H1300.0" stroke="#000" stroke-width="5.4"/>
</g>
<path d="M923.5 475.0V470.7M923.5 334.3V338.6M1039.5 475.0V470.7M1039.5 334.3V338.6M1155.5 475.0V470.7M1155.5 334.3V338.6M1271.5 475.0V470.7M1271.5 334.3V338.6M891.0 341.7H895.3M1319.3 341.7H1315.0M891.0 368.6H895.3M1319.3 368.6H1315.0M891.0 395.6H895.3M1319.3 395.6H1315.0M891.0 422.6H895.3M1319.3 422.6H1315.0M891.0 449.5H895.3M1319.3 449.5H1315.0" stroke="#262626" stroke-width="2" fill="none"/>
<rect x="891.05" y="334.3" width="428.2" height="140.7" fill="none" stroke="#262626" stroke-width="2"/>
<g fill="#262626" font-size="28.8">
<text x="895.47" y="508.60" font-size="28.8" fill="#262626">0.06</text>
<text x="1011.47" y="508.60" font-size="28.8" fill="#262626">0.07</text>
<text x="1127.47" y="508.60" font-size="28.8" fill="#262626">0.08</text>
<text x="1243.47" y="508.60" font-size="28.8" fill="#262626">0.09</text>
<text x="828.95" y="351.50" font-size="28.8" fill="#262626"> .3 </text><path d="M550 1409L738 1409L738 0L550 0L550 1128L205 900L205 1095Z" fill="#262626" transform="translate(828.95 351.50) scale(0.014063 -0.014063)"/><path d="M550 1409L738 1409L738 0L550 0L550 1128L205 900L205 1095Z" fill="#262626" transform="translate(868.98 351.50) scale(0.014063 -0.014063)"/>
<text x="844.96" y="378.40" font-size="28.8" fill="#262626"> .3</text><path d="M550 1409L738 1409L738 0L550 0L550 1128L205 900L205 1095Z" fill="#262626" transform="translate(844.96 378.40) scale(0.014063 -0.014063)"/>
<text x="828.95" y="405.40" font-size="28.8" fill="#262626"> .29</text><path d="M550 1409L738 1409L738 0L550 0L550 1128L205 900L205 1095Z" fill="#262626" transform="translate(828.95 405.40) scale(0.014063 -0.014063)"/>
<text x="828.95" y="432.40" font-size="28.8" fill="#262626"> .28</text><path d="M550 1409L738 1409L738 0L550 0L550 1128L205 900L205 1095Z" fill="#262626" transform="translate(828.95 432.40) scale(0.014063 -0.014063)"/>
<text x="828.95" y="459.30" font-size="28.8" fill="#262626"> .27</text><path d="M550 1409L738 1409L738 0L550 0L550 1128L205 900L205 1095Z" fill="#262626" transform="translate(828.95 459.30) scale(0.014063 -0.014063)"/>
</g>
<path d="M772.60 110.80L772.60 84.36M772.60 68.43L772.60 49.10M772.60 49.10L779.83 49.10M796.03 49.10L822.93 49.10M839.13 49.10L866.03 49.10M882.23 49.10L909.13 49.10M925.33 49.10L952.23 49.10M968.43 49.10L995.33 49.10M1011.53 49.10L1038.43 49.10M1054.63 49.10L1081.53 49.10M1097.73 49.10L1124.63 49.10M1140.83 49.10L1167.73 49.10M1183.93 49.10L1210.83 49.10M1227.03 49.10L1253.93 49.10M1270.13 49.10L1297.03 49.10M1313.23 49.10L1340.13 49.10M1356.33 49.10L1383.23 49.10M1396.40 52.08L1396.40 78.52M1396.40 94.45L1396.40 110.80M1396.40 110.80L1386.13 110.80M1369.93 110.80L1343.03 110.80M1326.83 110.80L1299.93 110.80M1283.73 110.80L1256.83 110.80M1240.63 110.80L1213.73 110.80M1197.53 110.80L1170.63 110.80M1154.43 110.80L1127.53 110.80M1111.33 110.80L1084.43 110.80M1068.23 110.80L1041.33 110.80M1025.13 110.80L998.23 110.80M982.03 110.80L955.13 110.80M938.93 110.80L912.03 110.80M895.83 110.80L868.93 110.80M852.73 110.80L825.83 110.80M809.63 110.80L782.73 110.80" fill="none" stroke="#000" stroke-width="2" stroke-linecap="butt"/>
<path d="M950.00 202.60L950.00 176.16M959.63 169.70L986.53 169.70M1002.73 169.70L1029.63 169.70M1045.83 169.70L1072.73 169.70M1088.93 169.70L1115.83 169.70M1132.03 169.70L1158.93 169.70M1175.13 169.70L1202.03 169.70M1218.23 169.70L1245.13 169.70M1257.80 173.17L1257.80 199.61M1244.64 202.60L1217.74 202.60M1201.54 202.60L1174.64 202.60M1158.44 202.60L1131.54 202.60M1115.34 202.60L1088.44 202.60M1072.24 202.60L1045.34 202.60M1029.14 202.60L1002.24 202.60M986.04 202.60L959.14 202.60" fill="none" stroke="#000" stroke-width="2" stroke-linecap="butt"/>
<path d="M1059.20 112.90L1078.91 130.46M1091.14 141.35L1096.12 145.79" stroke="#000" stroke-width="3.4" fill="none"/><path d="M1106.1 154.6L1088.4 147.7L1096.5 146.1L1097.2 137.9Z" fill="#000" stroke="#000" stroke-width="2.2" stroke-linejoin="round"/>
<path d="M1060.30 202.10L1055.45 227.81M1052.45 243.76L1047.60 269.47M1044.59 285.42L1039.74 311.13" stroke="#000" stroke-width="3.4" fill="none"/><path d="M1035.8 332.1L1032.6 313.4L1038.2 319.5L1045.6 315.8Z" fill="#000" stroke="#000" stroke-width="2.2" stroke-linejoin="round"/>
</svg></body></html>
